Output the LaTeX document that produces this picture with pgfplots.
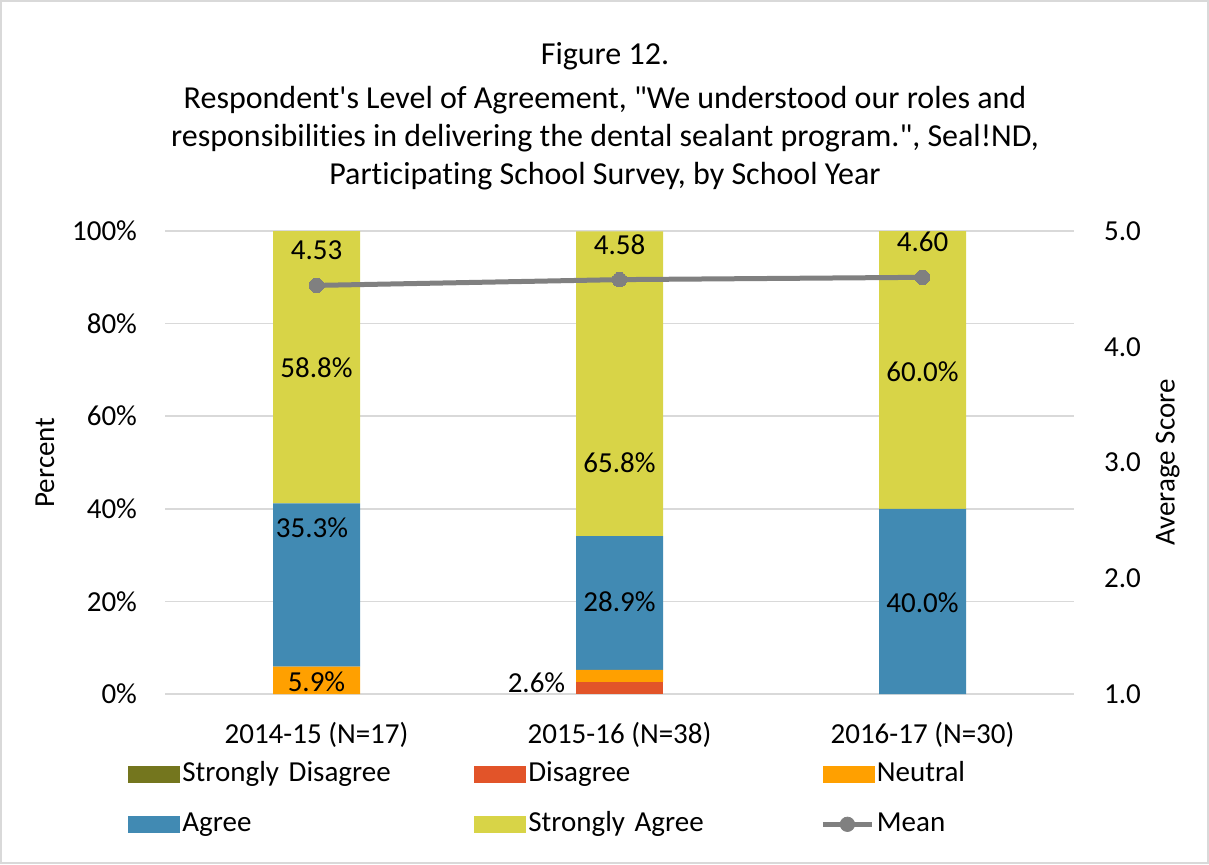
\documentclass[border=0pt]{standalone}
\usepackage{fontspec}
\setmainfont{Carlito}[Ligatures={NoCommon}]
\usepackage{pgfplots}
\pgfplotsset{compat=1.18}
\definecolor{cSD}{RGB}{116,118,30}
\definecolor{cD}{RGB}{226,84,41}
\definecolor{cN}{RGB}{255,160,0}
\definecolor{cA}{RGB}{65,138,179}
\definecolor{cSA}{RGB}{216,212,71}
\definecolor{meanc}{RGB}{128,128,128}
\definecolor{gridc}{RGB}{217,217,217}
\definecolor{framec}{RGB}{217,217,217}
\pgfplotsset{
  commongeom/.style={
    at={(82.5pt,85pt)}, anchor=south west, scale only axis,
    width=454.5pt, height=231.5pt, xmin=-0.5, xmax=2.5,
    /pgf/number format/assume math mode=true,
  },
  meanlegend/.style={
    legend image code/.code={\draw[meanc, line width=2.5pt] (0pt,0pt) -- (24.5pt,0pt); \fill[meanc] (12.25pt,0pt) circle[radius=3.6pt];}
  }
}
\begin{document}
\fontsize{14.5}{17}\selectfont
\begin{tikzpicture}[font=\fontsize{14.5}{17}\selectfont]
\useasboundingbox (0,0) rectangle (604.5pt,432pt);
\draw[color=framec, line width=0.75pt] (0.4pt,0.4pt) rectangle (604.1pt,431.6pt);
\begin{scope}[font=\fontsize{16}{19}\selectfont]
\node[anchor=base] at (302.5pt,399.5pt) {Figure 12.};
\node[anchor=base] at (302.5pt,377.5pt) {Respondent\textquotesingle s Level of Agreement, \textquotedbl We understood our roles and};
\node[anchor=base] at (302.5pt,358.7pt) {responsibilities in delivering the dental sealant program.\textquotedbl, Seal!ND,};
\node[anchor=base] at (302.5pt,339.5pt) {Participating School Survey, by School Year};
\end{scope}

\begin{axis}[commongeom,
  ybar stacked, bar width=43.5pt,
  ymin=0, ymax=100,
  xtick={0,1,2}, xticklabels={2014-15 (N=17),2015-16 (N=38),2016-17 (N=30)},
  ytick={0,20,...,100},
  yticklabel={\pgfmathprintnumber{\tick}\%},
  ymajorgrids, grid style={gridc, line width=0.75pt},
  axis x line*=bottom, axis y line*=left,
  x axis line style={gridc, line width=0.75pt},
  y axis line style={draw=none},
  major tick length=0pt, tick style={draw=none},
  xticklabel style={yshift=-9pt},
  yticklabel style={xshift=-9pt},
  ylabel={Percent},
  ylabel style={at={(axis description cs:-0.132,0.5)}, anchor=center},
  legend columns=3,
  legend style={at={(axis description cs:-0.0407,-0.1445)}, anchor=north west,
    draw=none, fill=none, inner sep=0pt, row sep=12pt, column sep=0pt,
    nodes={text width=145pt, align=left, inner xsep=1pt, inner ysep=0pt,
      text height=10pt, text depth=3pt, anchor=west}},
  area legend,
  legend image code/.code={\fill[#1] (0pt,-4.25pt) rectangle (26pt,4.25pt);},
]
\addplot[fill=cSD, draw=none] coordinates {(0,0) (1,0) (2,0)};
\addlegendentry{Strongly Disagree}
\addplot[fill=cD, draw=none] coordinates {(0,0) (1,2.6) (2,0)};
\addlegendentry{Disagree}
\addplot[fill=cN, draw=none] coordinates {(0,5.9) (1,2.6) (2,0)};
\addlegendentry{Neutral}
\addplot[fill=cA, draw=none] coordinates {(0,35.3) (1,28.9) (2,40.0)};
\addlegendentry{Agree}
\addplot[fill=cSA, draw=none] coordinates {(0,58.8) (1,65.8) (2,60.0)};
\addlegendentry{Strongly Agree}
\addlegendimage{meanlegend}
\addlegendentry{Mean}
\end{axis}

\begin{axis}[commongeom,
  ymin=1, ymax=5, clip=false,
  axis y line*=right, axis x line=none,
  y axis line style={draw=none},
  major tick length=0pt, tick style={draw=none},
  ytick={1,2,3,4,5},
  yticklabel style={/pgf/number format/.cd, fixed, fixed zerofill, precision=1, /tikz/.cd, xshift=10pt},
  ylabel={Average Score},
  ylabel style={at={(axis description cs:1.103,0.5)}, anchor=center},
]
\addplot[color=meanc, line width=2.5pt, mark=*, mark size=3.6pt,
  mark options={solid, fill=meanc, line width=0pt},
  nodes near coords={\pgfmathprintnumber[fixed,fixed zerofill,precision=2]{\pgfplotspointmeta}},
  nodes near coords align=center,
  every node near coord/.append style={yshift=17.5pt, text=black, font=\fontsize{14.5}{17}\selectfont}]
  coordinates {(0,4.53) (1,4.58) (2,4.60)};
\end{axis}

\begin{axis}[commongeom, ymin=0, ymax=100, hide axis, clip=false]
\addplot[draw=none, mark=none, nodes near coords, point meta=explicit symbolic,
  nodes near coords align=center,
  every node near coord/.append style={text=black, font=\fontsize{14.5}{17}\selectfont}]
  coordinates {
    (0,2.7) [5.9\%]
    (-0.015,35.9) [35.3\%]
    (0,70.4) [58.8\%]
    (0.726,2.4) [2.6\%]
    (1,19.9) [28.9\%]
    (1,49.9) [65.8\%]
    (2,19.7) [40.0\%]
    (2,69.5) [60.0\%]
  };
\end{axis}
\end{tikzpicture}
\end{document}
